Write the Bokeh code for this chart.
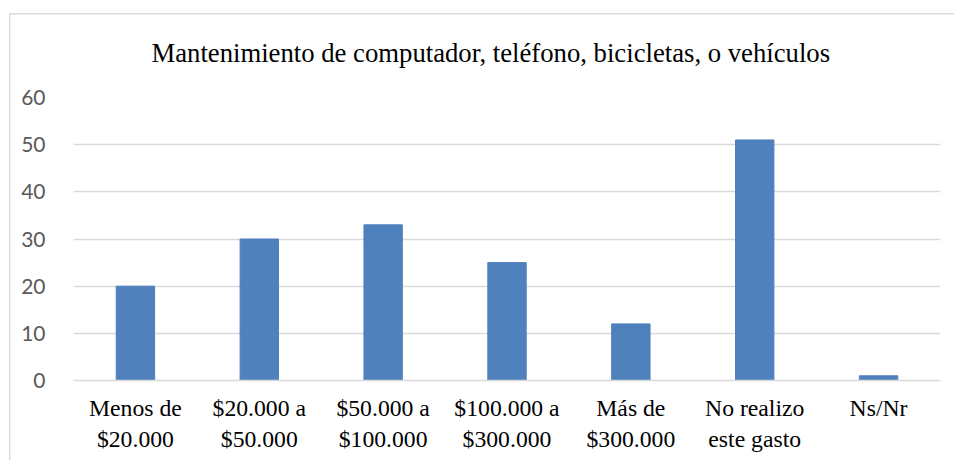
from bokeh.plotting import figure
from bokeh.models import Range1d, FactorRange
from bokeh.embed import file_html
from bokeh.resources import INLINE

categories = ["Menos de\n$20.000", "$20.000 a\n$50.000", "$50.000 a\n$100.000",
              "$100.000 a\n$300.000", "Más de\n$300.000", "No realizo\neste gasto", "Ns/Nr"]
values = [20, 30, 33, 25, 12, 51, 1]
y_ticks = [0, 10, 20, 30, 40, 50, 60]
title_text = "Mantenimiento de computador, teléfono, bicicletas, o vehículos"

p = figure(width=954, height=460, output_backend="svg", toolbar_location=None,
           x_range=FactorRange(factors=categories, range_padding=0),
           y_range=Range1d(0, 60),
           min_border_left=73, min_border_right=14, min_border_top=97, min_border_bottom=80,
           title=title_text)
# light grey chart-area border (top and left edges visible), drawn behind a transparent canvas
p.styles = {
    "background-color": "white",
    "background-image": "linear-gradient(#d9d9d9, #d9d9d9), linear-gradient(#d9d9d9, #d9d9d9)",
    "background-position": "9px 13px, 9px 13px",
    "background-size": "100% 1.5px, 1.5px 100%",
    "background-repeat": "no-repeat, no-repeat",
}

p.vbar(x=categories, top=values, width=0.31, color="#4F81BD", line_color="#4F81BD")

p.title.text_font = "Liberation Serif, serif"
p.title.text_font_size = "26.7px"
p.title.text_font_style = "normal"
p.title.text_color = "#000000"
p.title.align = "left"
p.title.offset = 78
p.title.standoff = 60

p.outline_line_color = None
p.background_fill_color = "white"
p.border_fill_color = None

p.xgrid.grid_line_color = None
p.ygrid.grid_line_color = "#d9d9d9"
p.ygrid.grid_line_width = 1.5
p.yaxis.ticker = y_ticks
p.yaxis.axis_line_color = None
p.yaxis.major_tick_line_color = None
p.yaxis.minor_tick_line_color = None
p.yaxis.major_label_standoff = 22
p.yaxis.major_label_text_font = "Lato"
p.yaxis.major_label_text_font_size = "21px"
p.yaxis.major_label_text_color = "#595959"

p.xaxis.axis_line_color = "#d9d9d9"
p.xaxis.axis_line_width = 1.5
p.xaxis.major_tick_line_color = None
p.xaxis.minor_tick_line_color = None
p.xaxis.major_label_standoff = 8
p.xaxis.major_label_text_font = "Liberation Serif, serif"
p.xaxis.major_label_text_font_size = "23.7px"
p.xaxis.major_label_text_color = "#000000"

open("out.html", "w").write(file_html(p, INLINE))
